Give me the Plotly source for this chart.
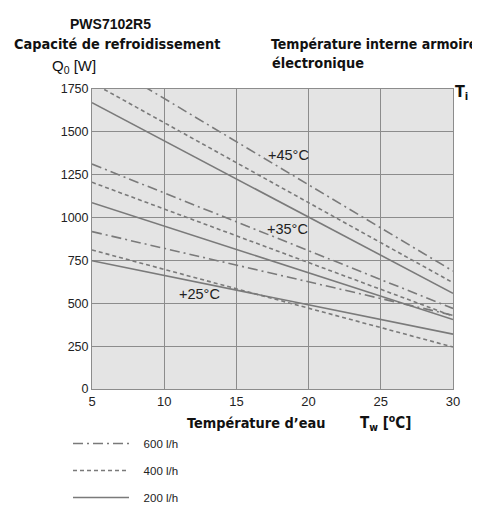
import plotly.graph_objects as go

# ---- data ----
tw = [5, 30]  # water temperature [°C]
flow_labels = ["600 l/h", "400 l/h", "200 l/h"]
q_45 = {"600 l/h": [1946, 688], "400 l/h": [1787, 620], "200 l/h": [1670, 558]}
q_35 = {"600 l/h": [1312, 470], "400 l/h": [1206, 425], "200 l/h": [1087, 405]}
q_25 = {"600 l/h": [918, 430], "400 l/h": [811, 245], "200 l/h": [748, 320]}
curve_sets = [("+45°C", q_45), ("+35°C", q_35), ("+25°C", q_25)]
x_ticks = [5, 10, 15, 20, 25, 30]
y_ticks = [0, 250, 500, 750, 1000, 1250, 1500, 1750]

dash_styles = {"600 l/h": "10px,4px,2px,4px", "400 l/h": "4px,3px", "200 l/h": "solid"}
LINE = "#7a7a7a"
COND = "DejaVu Sans Condensed, Roboto, sans-serif"
REG = "Liberation Sans, Arial, sans-serif"
PAD = "\u00a0\u00a0\u00a0"

fig = go.Figure()
for i, (label, qset) in enumerate(curve_sets):
    for fl in flow_labels:
        fig.add_trace(go.Scatter(
            x=tw, y=qset[fl], mode="lines", name=PAD + fl,
            legendgroup=fl, showlegend=(i == 0),
            line=dict(color=LINE, width=1.6, dash=dash_styles[fl]),
            hoverinfo="skip"))

OFF = 8  # page body offset of the figure div
W, H = 480, 506
# plot area in page pixels
X0, X1, Y0, Y1 = 92, 453, 89, 389
L, R, T, B = X0 - OFF, W - (X1 - OFF), Y0 - OFF, H - (Y1 - OFF)
pw, ph = W - L - R, H - T - B


def px(x):
    return (x - X0) / pw


def py(y):
    return (Y1 - y) / ph


ann = []


def add(text, x, y, size, family, xanchor="left", bold=False, color="#111"):
    ann.append(dict(text=f"<b>{text}</b>" if bold else text, x=px(x), y=py(y),
                    xref="paper", yref="paper", xanchor=xanchor, yanchor="middle",
                    showarrow=False, font=dict(size=size, family=family, color=color)))


add("PWS7102R5", 110, 24, 14, REG, "center", True)
add("Capacité de refroidissement", 12, 44, 14.4, COND, "left", True)
add("Q<sub>0</sub> [W]", 50, 66, 15, REG, "left")
add("Température interne armoire", 269, 44, 14, COND, "left", True)
add("électronique", 270, 63, 14.4, COND, "left", True)
add("T<sub>i</sub>", 461, 93, 16, COND, "center", True)
add("Température d’eau", 185, 423, 14.4, COND, "left", True)
add("T<sub>w</sub> [<sup>o</sup>C]", 358, 422, 15, COND, "left", True)
add("+45°C", 266, 155, 14.5, REG, "left", color="#222")
add("+35°C", 265, 229, 14.5, REG, "left", color="#222")
add("+25°C", 177, 294, 14.5, REG, "left", color="#222")

fig.update_layout(
    width=W, height=H,
    margin=dict(l=L, r=R, t=T, b=B, autoexpand=False),
    paper_bgcolor="white",
    plot_bgcolor="#e4e4e4",
    annotations=ann,
    showlegend=True,
    legend=dict(x=px(68), y=py(429), xanchor="left", yanchor="top",
                font=dict(size=11.5, family=REG, color="#222"),
                itemwidth=56, tracegroupgap=8, bgcolor="rgba(0,0,0,0)",
                traceorder="grouped"),
    xaxis=dict(range=[5, 30], tickvals=x_ticks, showgrid=True, gridcolor="#8c8c8c",
               gridwidth=1, zeroline=False, showline=True, linecolor="#8c8c8c",
               mirror=True, ticks="", automargin=False,
               tickfont=dict(size=13, family=REG, color="#222")),
    yaxis=dict(range=[0, 1750], tickvals=y_ticks, showgrid=True, gridcolor="#8c8c8c",
               gridwidth=1, zeroline=False, showline=True, linecolor="#8c8c8c",
               mirror=True, ticks="", automargin=False,
               tickfont=dict(size=12.5, family=REG, color="#222")),
)

fig.write_html("out.html")
